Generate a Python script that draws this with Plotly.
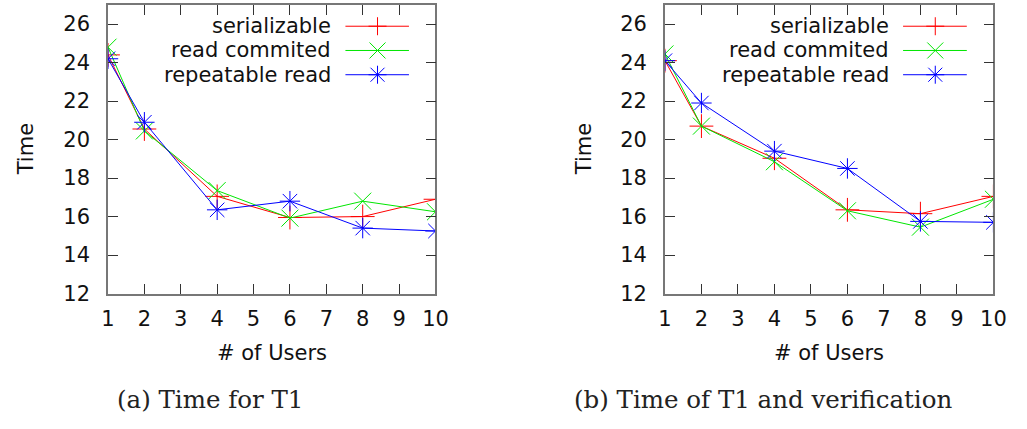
import plotly.graph_objects as go

users = [1, 2, 4, 6, 8, 10]
series_names = ["serializable", "read commited", "repeatable read"]

# (a) Time for T1
a_serializable = [24.4, 20.55, 17.05, 15.95, 16.0, 16.9]
a_read_commited = [24.8, 20.45, 17.35, 15.92, 16.8, 16.25]
a_repeatable_read = [24.2, 20.9, 16.35, 16.8, 15.4, 15.25]

# (b) Time of T1 and verification
b_serializable = [24.1, 20.7, 19.03, 16.35, 16.15, 17.05]
b_read_commited = [24.45, 20.7, 18.85, 16.3, 15.45, 16.9]
b_repeatable_read = [24.1, 21.9, 19.4, 18.5, 15.75, 15.7]

x_ticks = list(range(1, 11))
y_ticks = list(range(12, 27, 2))
captions = ["(a) Time for T1", "(b) Time of T1 and verification"]

colors = ["#ff0000", "#00e600", "#0000ff"]
symbols = ["cross-thin-open", "x-thin-open", "asterisk-open"]
legend_paths = [
    "M-9,0H9M0,-9V9",
    "M-8,-8L8,8M-8,8L8,-8",
    "M-9,0H9M0,-9V9M-7,-7L7,7M-7,7L7,-7",
]

fig = go.Figure()

panels = [
    ("x", "y", [a_serializable, a_read_commited, a_repeatable_read]),
    ("x2", "y2", [b_serializable, b_read_commited, b_repeatable_read]),
]

for xa, ya, data in panels:
    for name, vals, col, sym in zip(series_names, data, colors, symbols):
        fig.add_trace(go.Scatter(
            x=users, y=vals, mode="lines+markers", name=name,
            xaxis=xa, yaxis=ya, showlegend=False,
            line=dict(color=col, width=1),
            marker=dict(symbol=sym, size=17, color=col,
                        line=dict(color=col, width=1)),
        ))

font = dict(family="DejaVu Sans", size=21, color="#111111")

axis_common = dict(
    showline=True, linecolor="#777777", linewidth=1.5, mirror="ticks",
    ticks="inside", ticklen=10, tickwidth=1.2, tickcolor="#333333",
    showgrid=False, zeroline=False, tickfont=font,
)

x_domains = [[103 / 1027, 437 / 1027], [671 / 1027, 1006 / 1027]]
y_domain = [1 - 302 / 429, 1 - 5 / 429]

layout = dict(
    width=1027, height=429,
    margin=dict(l=0, r=0, t=0, b=0),
    paper_bgcolor="white", plot_bgcolor="white",
    showlegend=False,
)
for i, (xa, ya) in enumerate([("xaxis", "yaxis"), ("xaxis2", "yaxis2")]):
    sfx = "" if i == 0 else "2"
    layout[xa] = dict(axis_common, domain=x_domains[i], range=[1, 10],
                      tickvals=x_ticks, anchor="y" + sfx,
                      ticklabelstandoff=5)
    layout[ya] = dict(axis_common, domain=y_domain, range=[12, 27],
                      tickvals=y_ticks, anchor="x" + sfx,
                      ticklabelstandoff=12)
fig.update_layout(**layout)

annotations = []
shapes = []
row_y = [0.926, 0.842, 0.758]
caption_centers = [207, 771]
time_centers = [19, 588]
for i in range(2):
    sfx = "" if i == 0 else "2"
    xref = "x" + sfx + " domain"
    yref = "y" + sfx + " domain"
    d0, d1 = x_domains[i]
    cx = (d0 + d1) / 2
    annotations.append(dict(text="Time", xref="paper", yref="paper",
                            x=time_centers[i] / 1027, y=1 - 154 / 429,
                            textangle=-90, showarrow=False, font=font,
                            xanchor="center", yanchor="middle"))
    annotations.append(dict(text="# of Users", xref="paper", yref="paper",
                            x=cx, y=1 - 363 / 429, showarrow=False, font=font,
                            xanchor="center", yanchor="middle"))
    annotations.append(dict(text=captions[i], xref="paper", yref="paper",
                            x=caption_centers[i] / 1027,
                            y=1 - 411 / 429, showarrow=False,
                            font=dict(family="DejaVu Serif", size=24.5, color="#222222"),
                            xanchor="center", yanchor="middle"))
    for name, col, path, ry in zip(series_names, colors, legend_paths, row_y):
        annotations.append(dict(text=name, xref=xref, yref=yref, x=0.688, y=ry,
                                showarrow=False, font=font,
                                xanchor="right", yanchor="middle"))
        shapes.append(dict(type="line", xref=xref, yref=yref,
                           x0=0.725, x1=0.919, y0=ry, y1=ry,
                           line=dict(color=col, width=1)))
        shapes.append(dict(type="path", xref=xref, yref=yref,
                           xsizemode="pixel", ysizemode="pixel",
                           xanchor=0.823, yanchor=ry, path=path,
                           line=dict(color=col, width=1)))

fig.update_layout(annotations=annotations, shapes=shapes)
fig.write_html("out.html")
